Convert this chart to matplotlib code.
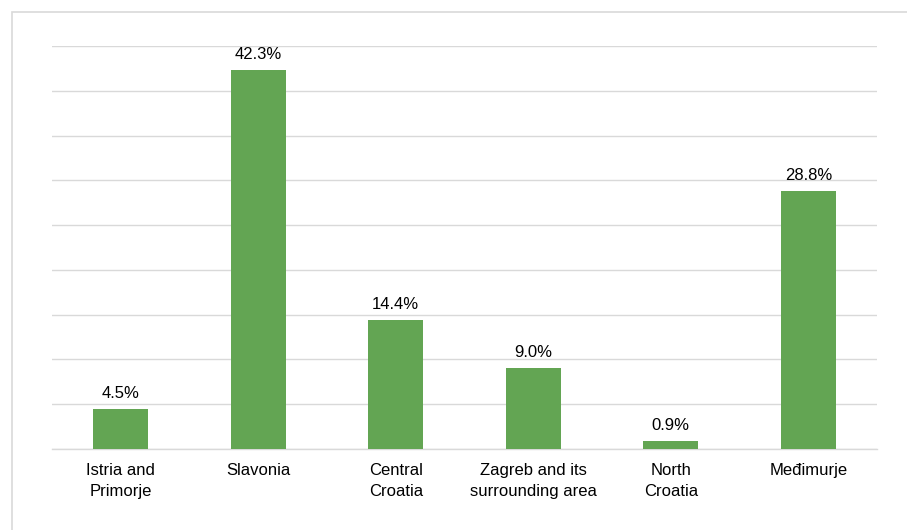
import matplotlib
matplotlib.use('Agg')
from matplotlib import pyplot as plt
from matplotlib.patches import Rectangle
import numpy as np

regions = ['Istria and\nPrimorje', 'Slavonia', 'Central\nCroatia',
           'Zagreb and its\nsurrounding area', 'North\nCroatia', 'Međimurje']
shares = [4.5, 42.3, 14.4, 9.0, 0.9, 28.8]

plt.rcParams['font.family'] = ['Liberation Sans', 'DejaVu Sans']

fig = plt.figure(figsize=(9.07, 5.30), dpi=100)
fig.patches.append(Rectangle((12 / 907, -0.01), 1.0, 1 - 12 / 530 + 0.01,
                             transform=fig.transFigure, fill=False,
                             edgecolor='#D9D9D9', linewidth=1.2))
ax = fig.add_axes([52 / 907, 1 - 449 / 530, 825 / 907, 403 / 530])

x = np.arange(len(regions))
bars = ax.bar(x, shares, width=0.4, color='#63A553', zorder=3)
for b, v in zip(bars, shares):
    ax.text(b.get_x() + b.get_width() / 2, v + 0.9, f'{v:.1f}%',
            ha='center', va='bottom', fontsize=12, color='#000000')

ax.set_xlim(-0.5, len(regions) - 0.5)
ax.set_ylim(0, 45)
ax.set_yticks(np.arange(0, 46, 5))
ax.set_yticklabels([])
ax.tick_params(axis='y', length=0)
ax.tick_params(axis='x', length=0, pad=10)
ax.set_xticks(x)
ax.set_xticklabels(regions, fontsize=12, linespacing=1.55)
ax.grid(axis='y', color='#D9D9D9', linewidth=1, zorder=0)
for s in ['top', 'left', 'right']:
    ax.spines[s].set_visible(False)
ax.spines['bottom'].set_color('#D9D9D9')
ax.spines['bottom'].set_linewidth(1)

fig.savefig('out.png', dpi=100)
